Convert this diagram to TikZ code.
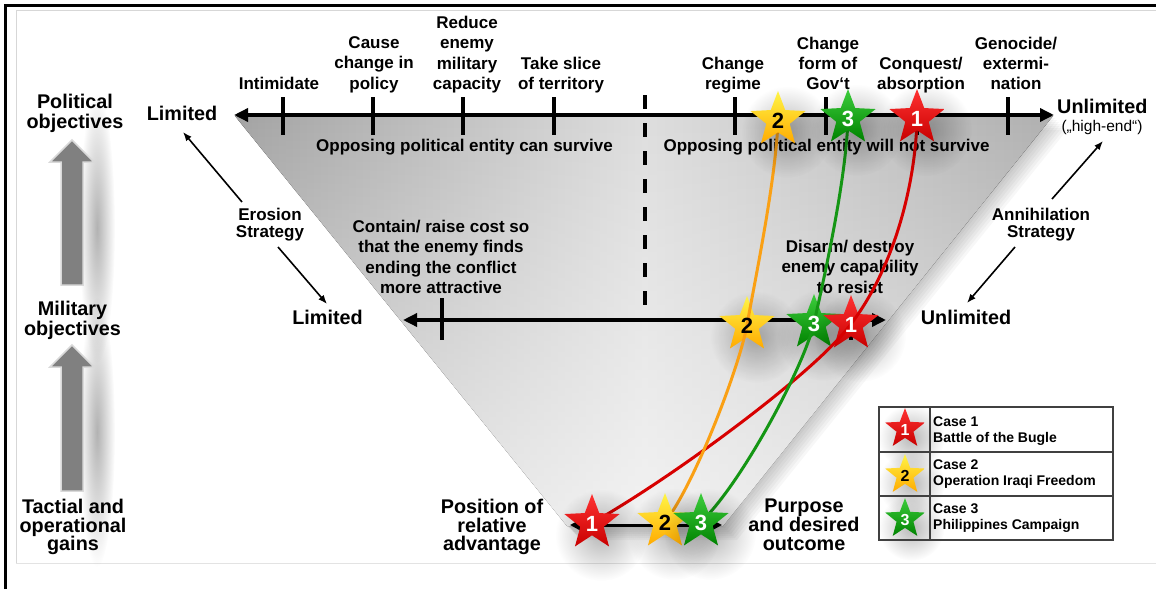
\documentclass[tikz,border=0pt]{standalone}
\usepackage{fontspec}
\setmainfont{Liberation Sans}
\usetikzlibrary{arrows.meta,fadings}

\definecolor{redA}{RGB}{255,50,50}
\definecolor{redB}{RGB}{200,0,0}
\definecolor{yelA}{RGB}{255,245,70}
\definecolor{yelB}{RGB}{255,170,0}
\definecolor{grnA}{RGB}{60,205,60}
\definecolor{grnB}{RGB}{0,130,0}
\definecolor{redLine}{RGB}{215,0,0}
\definecolor{orgLine}{RGB}{250,160,20}
\definecolor{grnLine}{RGB}{20,150,20}
\definecolor{frameGray}{RGB}{215,215,215}

% radial fading used for the soft shadows
\tikzfading[name=softdot, inner color=transparent!0, outer color=transparent!100]

\begin{document}
\begin{tikzpicture}[x=1pt,y=-1pt,
  txt/.style={font=\fontsize{17}{20.3}\selectfont\bfseries, align=center, inner sep=0pt},
  strat/.style={font=\fontsize{17}{17}\selectfont\bfseries, align=center, inner sep=0pt},
  bigtxt/.style={font=\fontsize{19.8}{19.8}\selectfont\bfseries, align=center, inner sep=0pt},
  bottxt/.style={font=\fontsize{19.8}{18.7}\selectfont\bfseries, align=center, inner sep=0pt},
  legtxt/.style={font=\fontsize{14}{16}\selectfont\bfseries, align=left, inner sep=0pt},
  axisline/.style={line width=3.4pt, {Triangle[length=14pt,width=13pt]}-{Triangle[length=14pt,width=13pt]}},
  smallaxis/.style={line width=3pt, {Triangle[length=10pt,width=10pt]}-{Triangle[length=10pt,width=10pt]}},
  tickmark/.style={line width=3.4pt},
  thinarrow/.style={line width=1.6pt, -{Latex[length=9pt,width=7pt]}},
  caseline/.style={line width=3pt},
  redstar/.style={top color=redA, bottom color=redB},
  yelstar/.style={top color=yelA, bottom color=yelB},
  grnstar/.style={top color=grnA, bottom color=grnB},
  numeral/.style={font=\fontsize{22}{22}\selectfont\bfseries, inner sep=0pt, yshift=-1pt},
  bigarrow/.style={fill=gray, draw=gray!30, line width=1.5pt, line join=miter},
  pics/casestar/.style n args={4}{code={
    \fill[black, opacity=.28, path fading=softdot] (9,12) circle (46);
    \path[#1] (270:29) -- (306:12.3) -- (342:29) -- (18:12.3) -- (54:29)
      -- (90:12.3) -- (126:29) -- (162:12.3) -- (198:29) -- (234:12.3) -- cycle;
    \node[text=#2, font=\fontsize{#4}{#4}\selectfont\bfseries, inner sep=0pt] at (0,1) {#3};
  }},
]
\useasboundingbox (0,0) rectangle (1156,589);
\fill[white] (0,0) rectangle (1156,589);

% page frame
\draw[frameGray, line width=1pt] (16,563) -- (16,10.5) -- (1156,10.5);
\draw[frameGray!70, line width=0.8pt] (16,563) -- (1156,563);
\draw[line width=3.6pt] (5.5,589) -- (5.5,5.5) -- (1156,5.5);

% funnel: soft shadow, grey body, lighter towards the bottom
\foreach \k in {2,4,...,14}
  \fill[black, opacity=.03, shift={(\k,\k)}] (235,116) -- (1053,116) -- (723,526) -- (567,526) -- cycle;
\fill[left color=gray!72, right color=gray!62, middle color=gray!26]
  (235,116) -- (1053,116) -- (723,526) -- (567,526) -- cycle;
\fill[white, opacity=.62, path fading=north]
  (235,116) -- (1053,116) -- (723,526) -- (567,526) -- cycle;

% left column: levels and grey up arrows
\fill[black, opacity=.3, path fading=softdot] (97,228) ellipse (18 and 135);
\fill[black, opacity=.3, path fading=softdot] (97,432) ellipse (18 and 135);
\path[bigarrow] (61,162) -- (50,162) -- (72,140) -- (94,162) -- (83,162) -- (83,285) -- (61,285) -- cycle;
\path[bigarrow] (61,367) -- (50,367) -- (72,345) -- (94,367) -- (83,367) -- (83,491) -- (61,491) -- cycle;
\node[bigtxt, anchor=north] (polObj) at (75,94) {Political\\objectives};
\node[bigtxt, anchor=north] (milObj) at (72.5,301) {Military\\objectives};
\node[bottxt, anchor=north] (tacGain) at (73,499) {Tactial and\\operational\\gains};

% political level axis
\coordinate (pL) at (234,115);
\coordinate (pR) at (1054,115);
\draw[axisline] (pL) -- (pR);
\foreach \x in {283,373,463,554,735,826,917,1008}
  \draw[tickmark] (\x,97) -- (\x,135);
\node[bigtxt, anchor=base] (limTop) at (182,120) {Limited};
\node[bigtxt, anchor=base west] (unlTop) at (1057,113) {Unlimited};
\node[font=\fontsize{15.5}{16}\selectfont, inner sep=0pt, anchor=base] (highEnd) at (1102,131) {(„high-end“)};

\node[txt, anchor=north] (tIntim) at (279,77) {Intimidate};
\node[txt, anchor=north] (tCause) at (374,36.5) {Cause\\change in\\policy};
\node[txt, anchor=north] (tReduce) at (467,16) {Reduce\\enemy\\military\\capacity};
\node[txt, anchor=north] (tSlice) at (561,57) {Take slice\\of territory};
\node[txt, anchor=north] (tRegime) at (733,57) {Change\\regime};
\node[txt, anchor=north] (tForm) at (828,36.5) {Change\\form of\\Gov‘t};
\node[txt, anchor=north] (tConq) at (921,57) {Conquest/\\absorption};
\node[txt, anchor=north] (tGeno) at (1016,36.5) {Genocide/\\extermi-\\nation};

\node[txt, anchor=base] (survive) at (464.5,151.5) {Opposing political entity can survive};
\node[txt, anchor=base] (notSurvive) at (826.5,151.5) {Opposing political entity will not survive};

% divide between the two halves
\coordinate (dTop) at (645,95);
\coordinate (dBot) at (645,312);
\draw[line width=3.4pt, dash pattern=on 14pt off 14pt] (dTop) -- (dBot);

% military level axis
\coordinate (mL) at (403,320);
\coordinate (mR) at (886,320);
\draw[axisline] (mL) -- (mR);
\draw[tickmark] (442,298) -- (442,340);
\draw[tickmark] (851,300) -- (851,340);
\node[bigtxt, anchor=base] (limMid) at (327.5,324) {Limited};
\node[bigtxt, anchor=base] (unlMid) at (966,324) {Unlimited};
\node[txt, anchor=north] (contain) at (441,220) {Contain/ raise cost so\\that the enemy finds\\ending the conflict\\more attractive};
\node[txt, anchor=north] (disarm) at (850,240) {Disarm/ destroy\\enemy capability\\to resist};

% strategies
\node[strat, anchor=north] (erosion) at (270,208) {Erosion\\Strategy};
\node[strat, anchor=north] (annih) at (1041,208) {Annihilation\\Strategy};
\coordinate (eA) at (242,202);
\coordinate (eB) at (183,132);
\coordinate (eC) at (278,247);
\coordinate (eD) at (327,304);
\draw[thinarrow] (eA) -- (eB);
\draw[thinarrow] (eC) -- (eD);
\coordinate (aA) at (1052,199);
\coordinate (aB) at (1103,141);
\coordinate (aC) at (1015,247);
\coordinate (aD) at (967,303);
\draw[thinarrow] (aA) -- (aB);
\draw[thinarrow] (aC) -- (aD);

% tactical level
\coordinate (bL) at (570,525);
\coordinate (bR) at (722,525);
\draw[smallaxis] (bL) -- (bR);
\node[bottxt, anchor=north] (position) at (492,499) {Position of\\relative\\advantage};
\node[bottxt, anchor=north] (purpose) at (804,499) {Purpose\\and desired\\outcome};

% star positions of the three cases
\coordinate (b1) at (592,523);
\coordinate (b2) at (665,522);
\coordinate (b3) at (701,522);
\coordinate (m1) at (851,324);
\coordinate (m2) at (747,325);
\coordinate (m3) at (814,323);
\coordinate (t1) at (917,118);
\coordinate (t2) at (778,120);
\coordinate (t3) at (848,118);

% military-level stars sit below the case paths, their numerals above
\pic at (m2) {casestar={yelstar}{black}{}{22}};
\pic at (m3) {casestar={grnstar}{white}{}{22}};
\pic at (m1) {casestar={redstar}{white}{}{22}};

% case paths
\draw[caseline, redLine] (b1) .. controls (672,478) and (816,372) .. (m1)
  .. controls (898,262) and (916,175) .. (t1);
\draw[caseline, orgLine] (b2) .. controls (695,484) and (740,365) .. (m2)
  .. controls (754,285) and (776,180) .. (t2);
\draw[caseline, grnLine] (b3) .. controls (741,484) and (804,367) .. (m3)
  .. controls (825,274) and (846,180) .. (t3);

\node[numeral, text=black] (n2) at (m2) {2};
\node[numeral, text=white] (n3) at (m3) {3};
\node[numeral, text=white] (n1) at (m1) {1};

\pic at (t2) {casestar={yelstar}{black}{2}{22}};
\pic at (t3) {casestar={grnstar}{white}{3}{22}};
\pic at (t1) {casestar={redstar}{white}{1}{22}};
\pic at (b1) {casestar={redstar}{white}{1}{22}};
\pic at (b2) {casestar={yelstar}{black}{2}{22}};
\pic at (b3) {casestar={grnstar}{white}{3}{22}};

% legend
\fill[white] (879,407) rectangle (1113,540);
\pic[scale=.72] at (905,429) {casestar={redstar}{white}{1}{16}};
\pic[scale=.72] at (905,475) {casestar={yelstar}{black}{2}{16}};
\pic[scale=.72] at (905,519) {casestar={grnstar}{white}{3}{16}};
\draw[black!75, line width=1.5pt] (879,407) rectangle (1113,540);
\draw[black!75, line width=1.5pt] (930,407) -- (930,540);
\draw[black!75, line width=1.5pt] (879,452) -- (1113,452);
\draw[black!75, line width=1.5pt] (879,496) -- (1113,496);
\node[legtxt, anchor=north west] (case1) at (933,417) {Case 1\\Battle of the Bugle};
\node[legtxt, anchor=north west] (case2) at (933,460) {Case 2\\Operation Iraqi Freedom};
\node[legtxt, anchor=north west] (case3) at (933,504) {Case 3\\Philippines Campaign};
\end{tikzpicture}
\end{document}
